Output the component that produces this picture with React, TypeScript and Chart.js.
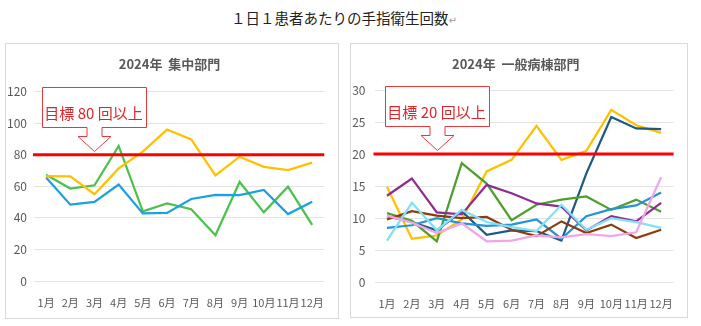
import React, { useEffect, useRef } from 'react';
import { Chart, registerables } from 'chart.js';

Chart.register(...registerables);

// ---------- data ----------
const months = ['1月', '2月', '3月', '4月', '5月', '6月', '7月', '8月', '9月', '10月', '11月', '12月'];

const shuchuOrange = [66.5, 66.3, 55, 71.4, 82, 96, 89.8, 67, 78.8, 72.4, 70.3, 75];
const shuchuGreen = [67.3, 58.6, 60.7, 85.6, 44.2, 49.2, 45.5, 29, 62.8, 43.5, 59.8, 35.6];
const shuchuBlue = [65.6, 48.4, 50.2, 61.1, 42.8, 43.2, 52, 54.6, 54.4, 57.7, 42.4, 50.2];

const ippanPink = [10.4, 9.3, 7.7, 9.2, 6.4, 6.5, 7.3, 7.0, 7.5, 7.2, 7.8, 16.4];
const ippanCyan = [6.5, 12.4, 8.1, 11.3, 9.4, 8.6, 8.0, 12.1, 8.2, 10.0, 9.4, 8.5];
const ippanBrown = [9.8, 11.1, 10.4, 10.0, 10.2, 8.2, 7.2, 9.5, 7.7, 9.0, 6.9, 8.2];
const ippanBlue = [8.5, 8.9, 10.0, 9.2, 8.8, 9.0, 9.8, 6.8, 10.3, 11.4, 12.0, 14.0];
const ippanPurple = [13.5, 16.2, 10.9, 10.6, 15.2, 13.9, 12.3, 11.8, 8.1, 10.3, 9.5, 12.4];
const ippanGreen = [10.8, 9.6, 6.4, 18.6, 15.4, 9.7, 12.1, 12.9, 13.4, 11.3, 12.9, 11.0];
const ippanNavy = [10.3, 9.4, 8.1, 11.1, 7.4, 8.1, 8.0, 6.5, 17.0, 25.8, 24.0, 23.9];
const ippanOrange = [14.9, 6.8, 7.3, 9.8, 17.3, 19.1, 24.4, 19.1, 20.5, 26.9, 24.5, 23.3];

const shuchuTarget = 80;
const ippanTarget = 20;
const shuchuTicks = { max: 120, step: 20 };
const ippanTicks = { max: 30, step: 5 };

const mainTitle = '１日１患者あたりの手指衛生回数';
const shuchuTitle = '2024年  集中部門';
const ippanTitle = '2024年  一般病棟部門';
const shuchuCallout = '目標 80 回以上';
const ippanCallout = '目標 20 回以上';

// ---------- styles ----------
const CJK = "'Noto Sans CJK JP', sans-serif";
const TICK_FONT = "'Liberation Sans Narrow', 'Noto Sans CJK JP', sans-serif";
const TICK_COLOR = '#595959';

const targetPlugin = {
  id: 'target',
  afterDatasetsDraw(chart: any, _args: any, opts: any) {
    const { ctx, chartArea, scales } = chart;
    const y = scales.y.getPixelForValue(opts.value);
    ctx.save();
    ctx.strokeStyle = '#FF0000';
    ctx.lineWidth = 3;
    ctx.beginPath();
    ctx.moveTo(chartArea.left - 1, y);
    ctx.lineTo(chartArea.right, y);
    ctx.stroke();

    const tx = Math.round(scales.x.getPixelForValue(opts.anchorIndex)) + 0.5;
    const ty = Math.round(y - 4) + 0.5;
    const L = tx - 52, R = tx + 52, T = ty - 64, B = ty - 24, H = ty - 15, sw = 7.5, hw = 16.5;
    ctx.beginPath();
    ctx.moveTo(L, T);
    ctx.lineTo(R, T);
    ctx.lineTo(R, B);
    ctx.lineTo(tx + sw, B);
    ctx.lineTo(tx + sw, H);
    ctx.lineTo(tx + hw, H);
    ctx.lineTo(tx, ty);
    ctx.lineTo(tx - hw, H);
    ctx.lineTo(tx - sw, H);
    ctx.lineTo(tx - sw, B);
    ctx.lineTo(L, B);
    ctx.closePath();
    ctx.fillStyle = '#FFFFFF';
    ctx.fill();
    ctx.lineWidth = 1;
    ctx.strokeStyle = '#E23B3B';
    ctx.stroke();
    ctx.fillStyle = '#D8262B';
    ctx.font = `15px ${CJK}`;
    ctx.textAlign = 'center';
    ctx.textBaseline = 'middle';
    ctx.fillText(opts.label, tx - 1, ty - 38.5);
    ctx.restore();
  },
};

function makeConfig(p: any): any {
  return {
    type: 'line',
    data: {
      labels: months,
      datasets: p.series.map((s: any) => ({
        data: s.data,
        borderColor: s.color,
        backgroundColor: s.color,
        borderWidth: 2.25,
        pointRadius: 0,
        tension: 0,
        fill: false,
      })),
    },
    plugins: [targetPlugin],
    options: {
      animation: false,
      responsive: false,
      events: [],
      layout: { padding: { left: 0, right: p.padRight, top: 0, bottom: 0 } },
      plugins: {
        legend: { display: false },
        tooltip: { enabled: false },
        title: {
          display: true,
          text: p.title,
          color: TICK_COLOR,
          font: { family: CJK, size: 13, weight: 'bold' },
          padding: { top: p.tTop, bottom: p.tBottom },
        },
        target: { value: p.target, anchorIndex: 2, label: p.callout },
      },
      scales: {
        x: {
          offset: true,
          grid: { display: false, drawTicks: false },
          border: { display: false },
          ticks: {
            color: TICK_COLOR,
            font: { family: TICK_FONT, size: 11 },
            padding: 15,
            maxRotation: 0,
            autoSkip: false,
          },
          afterFit: (s: any) => {
            s.height = p.xH;
          },
        },
        y: {
          min: 0,
          max: p.max,
          ticks: {
            stepSize: p.step,
            color: TICK_COLOR,
            font: { family: TICK_FONT, size: 12 },
            padding: p.yPad,
          },
          grid: { color: '#E4E4E4', drawTicks: false, lineWidth: 1 },
          border: { display: false },
          afterFit: (s: any) => {
            s.width = p.yW;
          },
        },
      },
    },
  };
}

function ChartBox(props: { left: number; top: number; width: number; height: number; params: any }) {
  const ref = useRef<HTMLCanvasElement | null>(null);
  useEffect(() => {
    if (!ref.current) return;
    const chart = new Chart(ref.current, makeConfig(props.params));
    return () => chart.destroy();
  }, []);
  return (
    <div
      style={{
        position: 'absolute',
        left: props.left,
        top: props.top,
        width: props.width,
        height: props.height,
        border: '1px solid #D9D9D9',
        boxSizing: 'border-box',
        background: '#fff',
      }}
    >
      <canvas
        ref={ref}
        width={props.width}
        height={props.height}
        style={{ position: 'absolute', left: -1, top: -1, width: props.width, height: props.height }}
      />
    </div>
  );
}

export default function App() {
  const leftParams = {
    title: shuchuTitle,
    callout: shuchuCallout,
    target: shuchuTarget,
    max: shuchuTicks.max,
    step: shuchuTicks.step,
    padRight: 5,
    yW: 29,
    yPad: 7,
    xH: 38,
    tTop: 13.2,
    tBottom: 19.9,
    series: [
      { data: shuchuOrange, color: '#FFC000' },
      { data: shuchuBlue, color: '#1BA1E2' },
      { data: shuchuGreen, color: '#4CC24C' },
    ],
  };
  const rightParams = {
    title: ippanTitle,
    callout: ippanCallout,
    target: ippanTarget,
    max: ippanTicks.max,
    step: ippanTicks.step,
    padRight: 6.5,
    yW: 24.5,
    yPad: 9,
    xH: 35.7,
    tTop: 13.2,
    tBottom: 18.2,
    series: [
      { data: ippanPink, color: '#F0A6EA' },
      { data: ippanCyan, color: '#80E0F6' },
      { data: ippanBrown, color: '#8C3B0C' },
      { data: ippanBlue, color: '#2694D2' },
      { data: ippanPurple, color: '#8E2C91' },
      { data: ippanGreen, color: '#4E9F2E' },
      { data: ippanNavy, color: '#1D5A84' },
      { data: ippanOrange, color: '#FFC000' },
    ],
  };
  return (
    <div style={{ position: 'fixed', left: 0, top: 0, width: 701, height: 326, background: '#fff', overflow: 'hidden' }}>
      <div
        style={{
          position: 'absolute',
          left: 231,
          top: 8,
          height: 20,
          lineHeight: '20px',
          fontFamily: CJK,
          fontSize: 14.5,
          color: '#222',
          whiteSpace: 'nowrap',
        }}
      >
        {mainTitle}
        <span style={{ color: '#9A9A9A', fontSize: 10, fontFamily: "'DejaVu Sans', sans-serif" }}>↵</span>
      </div>
      <ChartBox left={5} top={43} width={334} height={276} params={leftParams} />
      <ChartBox left={350} top={43} width={338} height={275} params={rightParams} />
    </div>
  );
}
